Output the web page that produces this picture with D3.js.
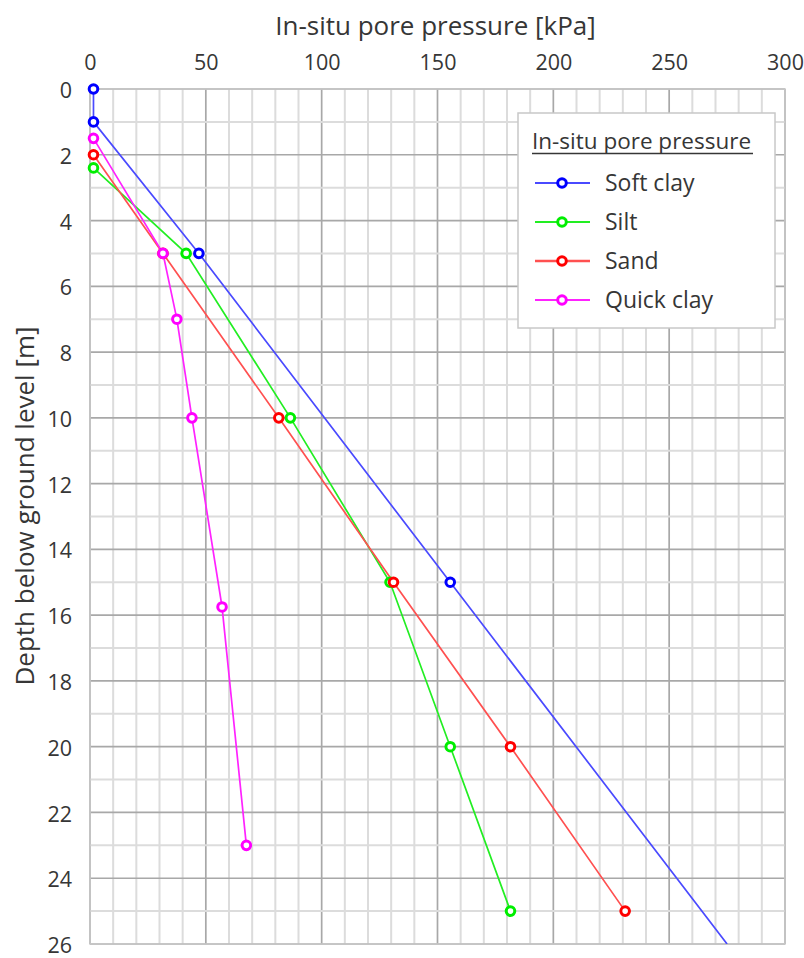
<!DOCTYPE html>
<html>
<head>
<meta charset="utf-8">
<script src="https://cdn.jsdelivr.net/npm/d3@7"></script>
<style>
  html, body { margin: 0; padding: 0; background: #fff; }
  svg { display: block; font-family: "Open Sans", "Noto Sans", sans-serif; }
</style>
</head>
<body>
<svg id="chart" width="804" height="958"></svg>
<script>
// Pore pressure profiles: depth [m] vs. in-situ pore pressure [kPa]
const softClayDepth = [0, 1, 5, 15, 26];
const softClayU     = [1.5, 1.5, 47, 155.5, 275];
const siltDepth = [2.4, 5, 10, 15, 20, 25];
const siltU     = [1.5, 41.5, 86.5, 129.5, 155.5, 181.5];
const sandDepth = [2, 5, 10, 15, 20, 25];
const sandU     = [1.5, 31.5, 81.5, 131, 181.5, 231];
const quickClayDepth = [1.5, 5, 7, 10, 15.75, 23];
const quickClayU     = [1.5, 31.5, 37.5, 44, 57, 67.5];

const xTicks = [0, 50, 100, 150, 200, 250, 300];
const yTicks = [0, 2, 4, 6, 8, 10, 12, 14, 16, 18, 20, 22, 24, 26];

const series = [
  { name: "Soft clay",  depth: softClayDepth,  u: softClayU,  line: "#4a4aff", mark: "#0000ff" },
  { name: "Silt",       depth: siltDepth,      u: siltU,      line: "#22ee22", mark: "#00ee00" },
  { name: "Sand",       depth: sandDepth,      u: sandU,      line: "#ff5050", mark: "#ff0000" },
  { name: "Quick clay", depth: quickClayDepth, u: quickClayU, line: "#ff22ff", mark: "#ff00ff" }
];

const margin = { left: 90, top: 89, right: 19, bottom: 14 };
const W = 804, H = 958;
const iw = W - margin.left - margin.right;
const ih = H - margin.top - margin.bottom;
const textColor = "#363636";

const x = d3.scaleLinear().domain([0, 300]).range([0, iw]);
const y = d3.scaleLinear().domain([0, 26]).range([0, ih]);

const svg = d3.select("#chart");
const g = svg.append("g").attr("transform", `translate(${margin.left},${margin.top})`);

// Grid: minor every 10 kPa / 1 m, major every 50 kPa / 2 m
const grid = g.append("g");
grid.selectAll("line.v").data(d3.range(0, 301, 10)).join("line")
  .attr("x1", d => x(d)).attr("x2", d => x(d)).attr("y1", 0).attr("y2", ih)
  .attr("stroke", d => d % 50 === 0 ? "#a8a8a8" : "#dcdcdc")
  .attr("stroke-width", d => d % 50 === 0 ? 1.7 : 2);
grid.selectAll("line.h").data(d3.range(0, 27, 1)).join("line")
  .attr("y1", d => y(d)).attr("y2", d => y(d)).attr("x1", 0).attr("x2", iw)
  .attr("stroke", d => d % 2 === 0 ? "#a8a8a8" : "#dcdcdc")
  .attr("stroke-width", d => d % 2 === 0 ? 1.7 : 2);
g.append("rect").attr("width", iw).attr("height", ih)
  .attr("fill", "none").attr("stroke", "#c8c8c8").attr("stroke-width", 1.5);

// Axes
const xAxis = g.append("g").call(d3.axisTop(x).tickValues(xTicks).tickSize(0).tickPadding(19.5));
const yAxis = g.append("g").call(d3.axisLeft(y).tickValues(yTicks).tickSize(0).tickPadding(18));
[xAxis, yAxis].forEach(a => {
  a.select(".domain").remove();
  a.selectAll("text").attr("font-family", "'Open Sans', sans-serif")
    .attr("font-size", 21.5).attr("fill", textColor);
});
yAxis.selectAll("text").attr("dy", "0.4em");

svg.append("text").attr("x", margin.left + iw / 2 - 2).attr("y", 35)
  .attr("text-anchor", "middle").attr("font-size", 26).attr("fill", textColor)
  .text("In-situ pore pressure [kPa]");
svg.append("text")
  .attr("transform", `translate(34,${506}) rotate(-90)`)
  .attr("text-anchor", "middle").attr("font-size", 26).attr("fill", textColor)
  .text("Depth below ground level [m]");

// Series
g.append("clipPath").attr("id", "plotClip")
  .append("rect").attr("x", -8).attr("y", -8).attr("width", iw + 8).attr("height", ih + 8);
const plot = g.append("g").attr("clip-path", "url(#plotClip)");
const line = d3.line().x(d => x(d[0])).y(d => y(d[1]));

series.forEach(s => {
  const pts = s.u.map((u, i) => [u, s.depth[i]]);
  plot.append("path").datum(pts).attr("d", line)
    .attr("fill", "none").attr("stroke", s.line).attr("stroke-width", 1.7);
});
series.forEach(s => {
  const pts = s.u.map((u, i) => [u, s.depth[i]]).filter(p => p[1] < 26);
  plot.selectAll(null).data(pts).join("circle")
    .attr("cx", d => x(d[0])).attr("cy", d => y(d[1])).attr("r", 4.3)
    .attr("fill", "#fff").attr("stroke", s.mark).attr("stroke-width", 3);
});

// Legend
const lg = svg.append("g").attr("transform", "translate(518,113)");
lg.append("rect").attr("width", 257).attr("height", 215)
  .attr("fill", "#fff").attr("stroke", "#c8c8c8").attr("stroke-width", 1.5);
lg.append("text").attr("x", 14).attr("y", 36).attr("font-size", 22.5).attr("fill", textColor)
  .text("In-situ pore pressure");
lg.append("line").attr("x1", 14).attr("x2", 235).attr("y1", 40.5).attr("y2", 40.5)
  .attr("stroke", textColor).attr("stroke-width", 1.4);
series.forEach((s, i) => {
  const cy = 70 + i * 39;
  lg.append("line").attr("x1", 17).attr("x2", 72).attr("y1", cy).attr("y2", cy)
    .attr("stroke", s.line).attr("stroke-width", s.name === "Sand" ? 2.6 : 1.9);
  lg.append("circle").attr("cx", 44).attr("cy", cy).attr("r", 4.3)
    .attr("fill", "#fff").attr("stroke", s.mark).attr("stroke-width", 3);
  lg.append("text").attr("x", 87).attr("y", cy).attr("dy", "0.36em")
    .attr("font-size", 23).attr("fill", textColor).text(s.name);
});
</script>
</body>
</html>
